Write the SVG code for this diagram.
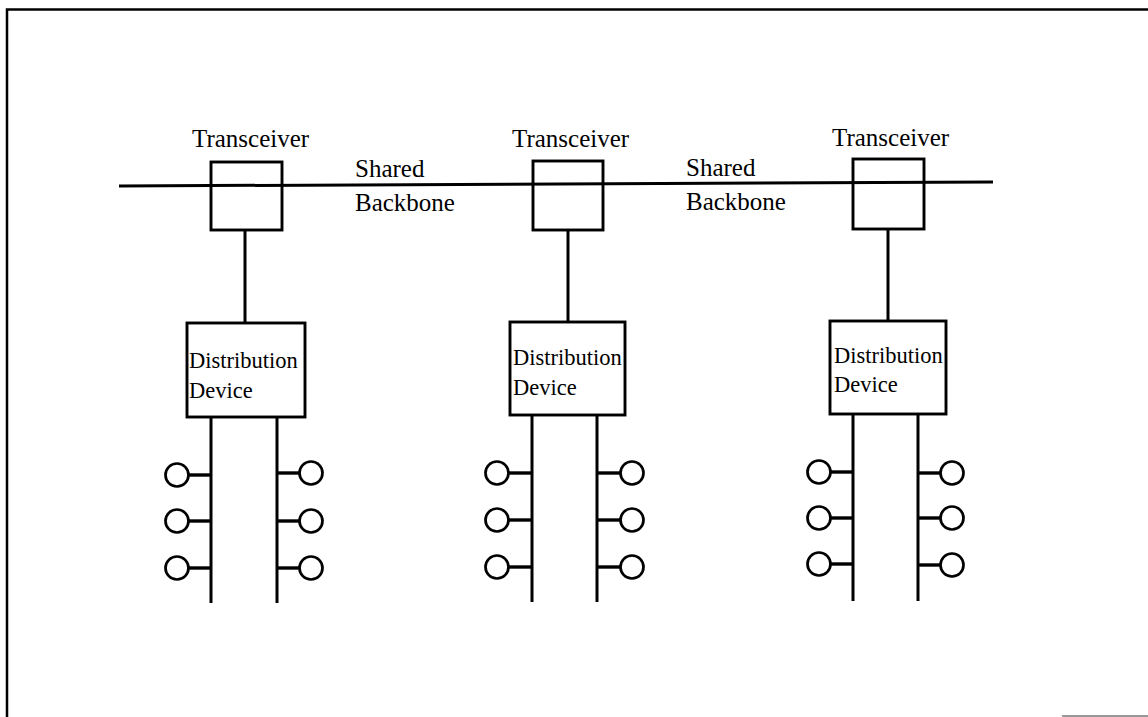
<svg xmlns="http://www.w3.org/2000/svg" width="1148" height="717" viewBox="0 0 1148 717">
  <style>
    .frame { fill: none; stroke: #000; stroke-width: 2.5; }
    .box { fill: #fff; stroke: #000; stroke-width: 2.9; }
    .xcvr { fill: none; stroke: #000; stroke-width: 2.9; }
    .wire { fill: none; stroke: #000; stroke-width: 3; }
    .stub { fill: none; stroke: #000; stroke-width: 3.4; }
    .station { fill: #fff; stroke: #000; stroke-width: 2.7; }
    .lbl { font-family: "Liberation Serif", "Times New Roman", serif; font-size: 25px; fill: #000; }
    .dlbl { font-family: "Liberation Serif", "Times New Roman", serif; font-size: 22.5px; fill: #000; }
  </style>
  <rect width="1148" height="717" fill="#fff"/>

  <!-- page frame -->
  <path class="frame" d="M7,717 V9.5 H1148"/>
  <path d="M1062,716 H1148" stroke="#777" stroke-width="1.5"/>

  <!-- connectors -->
  <g id="connectors">
    <!-- shared backbone -->
    <line class="wire" x1="119" y1="186" x2="993" y2="182"/>
    <!-- transceiver drops -->
    <line class="wire" x1="245" y1="230" x2="245" y2="323"/>
    <line class="wire" x1="568" y1="230" x2="568" y2="322"/>
    <line class="wire" x1="888" y1="229" x2="888" y2="321"/>
    <!-- distribution buses -->
    <line class="wire" x1="211" y1="417" x2="211" y2="603"/>
    <line class="wire" x1="277" y1="417" x2="277" y2="603"/>
    <line class="wire" x1="532" y1="415" x2="532" y2="602"/>
    <line class="wire" x1="597" y1="415" x2="597" y2="602"/>
    <line class="wire" x1="853" y1="414" x2="853" y2="601"/>
    <line class="wire" x1="918" y1="414" x2="918" y2="601"/>
    <!-- station stubs -->
    <g class="stub">
      <line x1="188" y1="475" x2="211" y2="475"/>
      <line x1="188" y1="521" x2="211" y2="521"/>
      <line x1="188" y1="568" x2="211" y2="568"/>
      <line x1="277" y1="473" x2="300" y2="473"/>
      <line x1="277" y1="521" x2="300" y2="521"/>
      <line x1="277" y1="568" x2="300" y2="568"/>
      <line x1="508" y1="473" x2="532" y2="473"/>
      <line x1="508" y1="520" x2="532" y2="520"/>
      <line x1="508" y1="567" x2="532" y2="567"/>
      <line x1="597" y1="473" x2="621" y2="473"/>
      <line x1="597" y1="520" x2="621" y2="520"/>
      <line x1="597" y1="567" x2="621" y2="567"/>
      <line x1="830" y1="472" x2="853" y2="472"/>
      <line x1="830" y1="518" x2="853" y2="518"/>
      <line x1="830" y1="564" x2="853" y2="564"/>
      <line x1="918" y1="473" x2="941" y2="473"/>
      <line x1="918" y1="518" x2="941" y2="518"/>
      <line x1="918" y1="565" x2="941" y2="565"/>
    </g>
  </g>

  <!-- backbone labels -->
  <g id="backbone-label-1">
    <text class="lbl" x="355" y="177">Shared</text>
    <text class="lbl" x="355" y="211">Backbone</text>
  </g>
  <g id="backbone-label-2">
    <text class="lbl" x="686" y="176">Shared</text>
    <text class="lbl" x="686" y="210">Backbone</text>
  </g>

  <!-- transceivers: outline only, the backbone runs through them -->
  <g id="transceiver-1">
    <text class="lbl" x="192" y="147">Transceiver</text>
    <rect class="xcvr" x="211" y="162" width="71" height="68"/>
  </g>
  <g id="transceiver-2">
    <text class="lbl" x="512" y="147">Transceiver</text>
    <rect class="xcvr" x="533" y="161" width="70" height="69"/>
  </g>
  <g id="transceiver-3">
    <text class="lbl" x="832" y="146">Transceiver</text>
    <rect class="xcvr" x="853" y="159" width="71" height="70"/>
  </g>

  <!-- distribution devices -->
  <g id="distribution-1">
    <rect class="box" x="187" y="323" width="118" height="94"/>
    <text class="dlbl" x="189" y="368">Distribution</text>
    <text class="dlbl" x="189" y="398">Device</text>
  </g>
  <g id="distribution-2">
    <rect class="box" x="510" y="322" width="115" height="93"/>
    <text class="dlbl" x="513" y="365">Distribution</text>
    <text class="dlbl" x="513" y="395">Device</text>
  </g>
  <g id="distribution-3">
    <rect class="box" x="830" y="321" width="116" height="93"/>
    <text class="dlbl" x="834" y="363">Distribution</text>
    <text class="dlbl" x="834" y="392">Device</text>
  </g>

  <!-- end stations -->
  <g id="stations-1">
    <circle class="station" cx="177" cy="475" r="11.5"/>
    <circle class="station" cx="177" cy="521" r="11.5"/>
    <circle class="station" cx="177" cy="568" r="11.5"/>
    <circle class="station" cx="311" cy="473" r="11.5"/>
    <circle class="station" cx="311" cy="521" r="11.5"/>
    <circle class="station" cx="311" cy="568" r="11.5"/>
  </g>
  <g id="stations-2">
    <circle class="station" cx="497" cy="473" r="11.5"/>
    <circle class="station" cx="497" cy="520" r="11.5"/>
    <circle class="station" cx="497" cy="567" r="11.5"/>
    <circle class="station" cx="632" cy="473" r="11.5"/>
    <circle class="station" cx="632" cy="520" r="11.5"/>
    <circle class="station" cx="632" cy="567" r="11.5"/>
  </g>
  <g id="stations-3">
    <circle class="station" cx="819" cy="472" r="11.5"/>
    <circle class="station" cx="819" cy="518" r="11.5"/>
    <circle class="station" cx="819" cy="564" r="11.5"/>
    <circle class="station" cx="952" cy="473" r="11.5"/>
    <circle class="station" cx="952" cy="518" r="11.5"/>
    <circle class="station" cx="952" cy="565" r="11.5"/>
  </g>
</svg>
